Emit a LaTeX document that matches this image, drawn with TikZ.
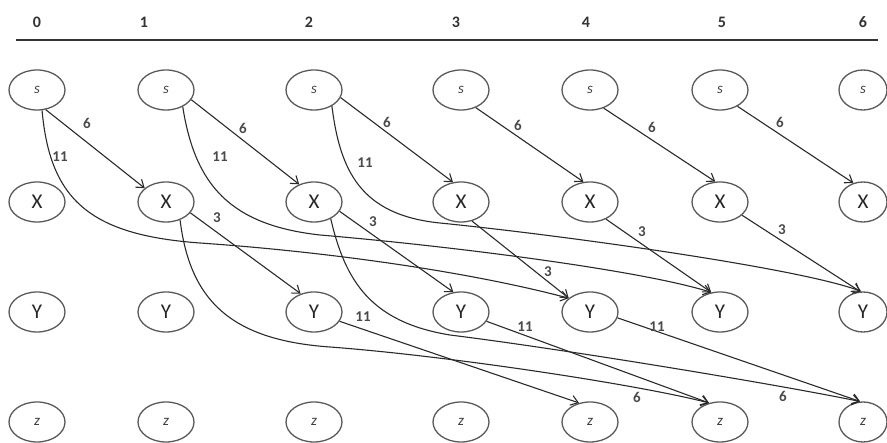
\documentclass[tikz,border=0pt]{standalone}
\usepackage{fontspec}
\setmainfont{Carlito}
\usetikzlibrary{arrows.meta,shapes.geometric}
\definecolor{ringc}{HTML}{5A5A5A}
\definecolor{edgec}{HTML}{2A2A2A}
\definecolor{labc}{HTML}{4A4A4A}
\begin{document}
\begin{tikzpicture}[x=1pt,y=-1pt,
  st/.style={ellipse, draw=ringc, line width=1.3pt, minimum width=56pt, minimum height=40pt,
             inner sep=0pt, font=\fontsize{21}{21}\selectfont, text=black!85},
  narrow/.style={minimum width=48pt},
  sm/.style={font=\fontsize{15}{15}\selectfont\itshape, text=black!75},
  edge/.style={draw=edgec, line width=1.1pt, -{Straight Barb[length=7pt,width=10pt]}},
  lab/.style={text=labc, font=\fontsize{15}{15}\selectfont\bfseries, inner sep=0pt},
  hd/.style={text=black!80, font=\fontsize{16}{16}\selectfont\bfseries, inner sep=0pt},
  rulel/.style={draw=black!80, line width=2.2pt}]

\useasboundingbox (0,0) rectangle (887,443);

% header
\node[hd] (h0) at (37,22) {0};
\node[hd] (h1) at (144,22) {1};
\node[hd] (h2) at (309,22) {2};
\node[hd] (h3) at (456,22) {3};
\node[hd] (h4) at (586,22) {4};
\node[hd] (h5) at (722,22) {5};
\node[hd] (h6) at (863,22) {6};
\coordinate (rl) at (16,40);
\coordinate (rr) at (878,40);
\draw[rulel] (rl) -- (rr);

% nodes
\foreach \i/\cx in {0/37,1/166,2/314,3/461,4/590,5/720}{
  \node[st,sm] (s\i) at (\cx,90) {s};
  \node[st] (x\i) at (\cx,202) {X};
  \node[st] (y\i) at (\cx,312) {Y};
  \node[st,sm] (z\i) at (\cx,422) {z};
}
\node[st,sm,narrow] (s6) at (863,90) {s};
\node[st,narrow] (x6) at (863,202) {X};
\node[st,narrow] (y6) at (863,312) {Y};
\node[st,sm,narrow] (z6) at (863,422) {z};

% s -> X (6)
\draw[edge] (s0.-66) -- (x1.147);
\draw[edge] (s1.-21) -- (x2.130);
\draw[edge] (s2.-16) -- (x3.112);
\draw[edge] (s3.-50) -- (x4.108);
\draw[edge] (s4.-53) -- (x5.103);
\draw[edge] (s5.-43) -- (x6.117);
\node[lab] (l1) at (87,123) {6};
\node[lab] (l2) at (243,128) {6};
\node[lab] (l3) at (387,122) {6};
\node[lab] (l4) at (518,125) {6};
\node[lab] (l5) at (652,127) {6};
\node[lab] (l6) at (780,122) {6};

% s -> Y (11)
\draw[edge] (s0.-76) .. controls (50,200) and (90,235) .. (200,243)
            .. controls (330,252) and (470,272) .. (y4.147);
\draw[edge] (s1.-45) .. controls (195,185) and (230,225) .. (320,235)
            .. controls (450,246) and (640,270) .. (y5.114);
\draw[edge] (s2.-42) .. controls (340,170) and (360,215) .. (440,223)
            .. controls (560,235) and (800,268) .. (y6.95);
\node[lab] (l7) at (60,157) {11};
\node[lab] (l8) at (220,157) {11};
\node[lab] (l9) at (365,163) {11};

% X -> Y (3)
\draw[edge] (x1.-24) -- (y2.126);
\draw[edge] (x2.-20) -- (y3.111);
\draw[edge] (x3.-60) -- (y4.147);
\draw[edge] (x4.-47) -- (y5.114);
\draw[edge] (x5.-31) -- (y6.98);
\node[lab] (l10) at (217,218) {3};
\node[lab] (l11) at (373,222) {3};
\node[lab] (l12) at (548,272) {3};
\node[lab] (l13) at (642,232) {3};
\node[lab] (l14) at (782,230) {3};

% X -> z (6)
\draw[edge] (x1.-52) .. controls (190,300) and (230,340) .. (330,347)
            .. controls (450,356) and (640,385) .. (z5.120);
\draw[edge] (x2.-45) .. controls (345,280) and (370,322) .. (450,335)
            .. controls (570,350) and (780,385) .. (z6.98);
\node[lab] (l15) at (637,397) {6};
\node[lab] (l16) at (783,396) {6};

% Y -> z (11)
\draw[edge] (y2.-20) -- (z4.120);
\draw[edge] (y3.-20) -- (z5.120);
\draw[edge] (y4.-12) -- (z6.98);
\node[lab] (l17) at (363,317) {11};
\node[lab] (l18) at (525,327) {11};
\node[lab] (l19) at (657,327) {11};
\end{tikzpicture}
\end{document}
